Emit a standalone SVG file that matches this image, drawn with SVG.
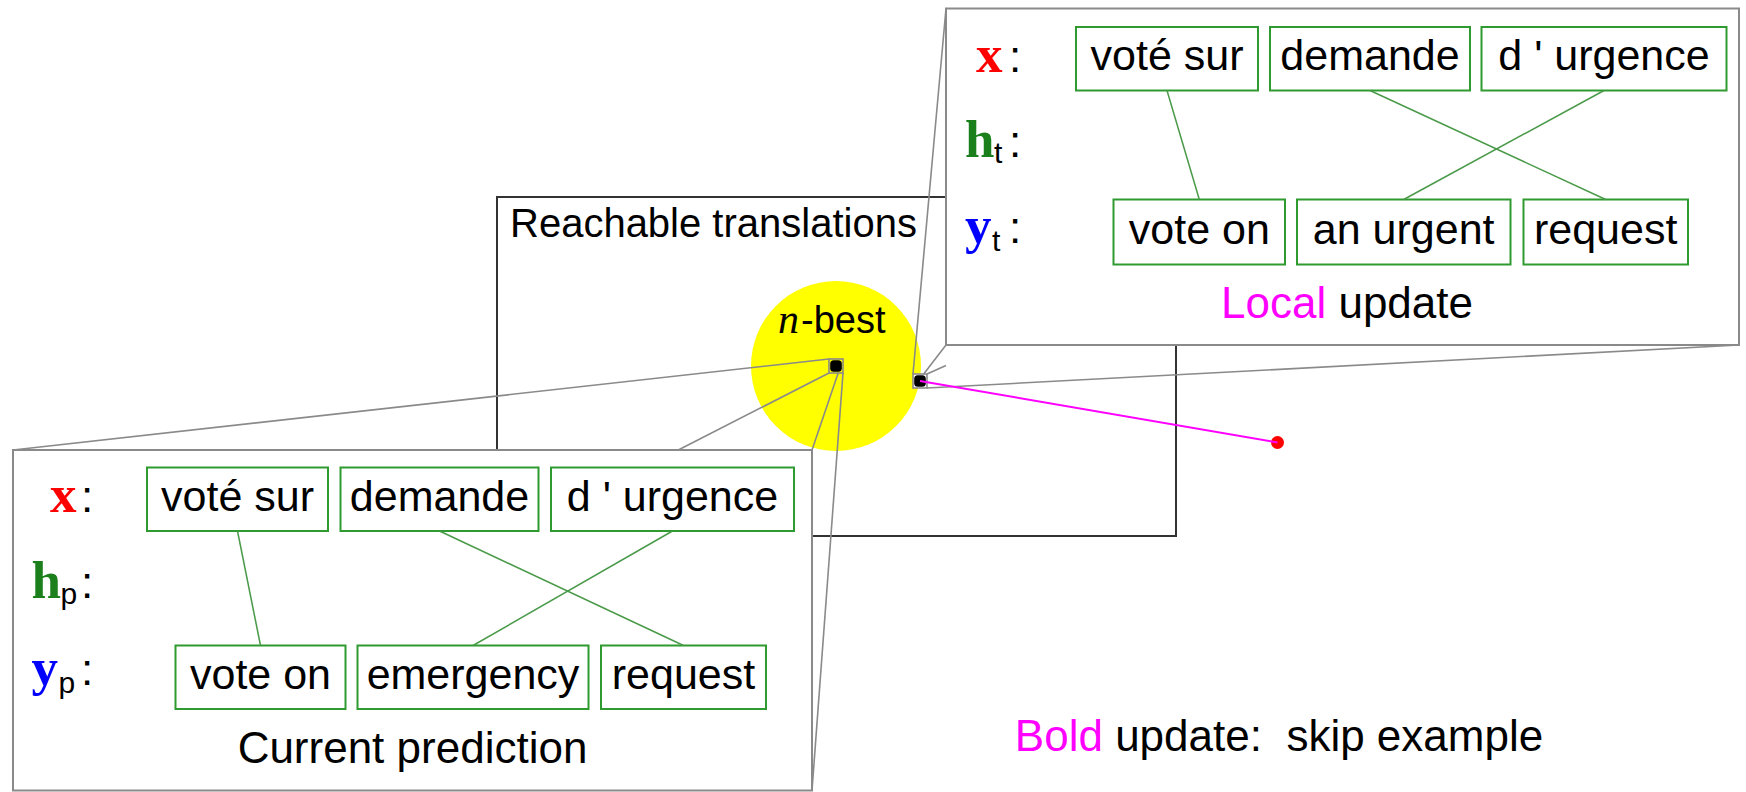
<svg xmlns="http://www.w3.org/2000/svg" width="1746" height="792" viewBox="0 0 1746 792">
  <style>
    text { font-family: "Liberation Sans", Arial, sans-serif; fill: #000; }
    .word { font-size: 43px; text-anchor: middle; }
    .cap { font-size: 44px; text-anchor: middle; }
    .bx { font-family: "Liberation Serif", "Times New Roman", serif; font-weight: bold; font-size: 53px; }
    .sub { font-size: 30px; }
    .colon { font-size: 44px; }
    .wbox { fill: #fff; stroke: #2f9a2f; stroke-width: 2; }
    .panel { fill: #fff; stroke: #8a8a8a; stroke-width: 2; }
    .align { stroke: #4a9a4a; stroke-width: 1.5; fill: none; }
    .proj { stroke: #8a8a8a; stroke-width: 1.6; fill: none; }
    .spy { stroke: #8a8a8a; stroke-width: 1.6; }
  </style>

  <!-- set of reachable translations -->
  <g id="reachable">
    <rect x="497" y="197" width="679" height="339" fill="none" stroke="#333" stroke-width="2"/>
    <text x="510" y="237" font-size="40">Reachable translations</text>
  </g>

  <!-- n-best region -->
  <g id="nbest">
    <circle cx="836" cy="366" r="85" fill="#ffff00"/>
    <text x="778" y="333" font-size="38"><tspan font-family="Liberation Serif, serif" font-style="italic" font-size="42">n</tspan><tspan x="801">-best</tspan></text>
  </g>

  <!-- magnified view: local update -->
  <g id="local-panel">
    <rect class="panel" x="946" y="8.5" width="793" height="336.5"/>
    <text x="976" y="71.5"><tspan class="bx" fill="#ff0000">x</tspan></text>
    <text class="colon" x="1009" y="71.5">:</text>
    <text x="965" y="157"><tspan class="bx" fill="#1b7f1b">h</tspan><tspan class="sub" x="994" y="163">t</tspan></text>
    <text class="colon" x="1009" y="157">:</text>
    <text x="965" y="242.5"><tspan class="bx" fill="#0000ff">y</tspan><tspan class="sub" x="992" y="251">t</tspan></text>
    <text class="colon" x="1009" y="242.5">:</text>
    <text class="cap" x="1347" y="318"><tspan fill="#ff00ff">Local</tspan> update</text>
  </g>
  <g id="t-src-1"><rect class="wbox" x="1076" y="27" width="182" height="63.5"/><text class="word" x="1167" y="70">voté sur</text></g>
  <g id="t-src-2"><rect class="wbox" x="1270" y="27" width="200" height="63.5"/><text class="word" x="1370" y="70">demande</text></g>
  <g id="t-src-3"><rect class="wbox" x="1481.5" y="27" width="245" height="63.5"/><text class="word" x="1604" y="70">d ' urgence</text></g>
  <g id="t-tgt-1"><rect class="wbox" x="1113.5" y="199.5" width="171.5" height="65"/><text class="word" x="1199.3" y="243.5">vote on</text></g>
  <g id="t-tgt-2"><rect class="wbox" x="1297" y="199.5" width="213.5" height="65"/><text class="word" x="1403.7" y="243.5">an urgent</text></g>
  <g id="t-tgt-3"><rect class="wbox" x="1523.5" y="199.5" width="164.5" height="65"/><text class="word" x="1605.7" y="243.5">request</text></g>

  <!-- magnified view: current prediction -->
  <g id="prediction-panel">
    <rect class="panel" x="13" y="450" width="799" height="340.5"/>
    <text x="50" y="511.5"><tspan class="bx" fill="#ff0000">x</tspan></text>
    <text class="colon" x="81" y="511.5">:</text>
    <text x="31.5" y="598"><tspan class="bx" fill="#1b7f1b">h</tspan><tspan class="sub" x="60.5" y="604">p</tspan></text>
    <text class="colon" x="81" y="598">:</text>
    <text x="31.5" y="685"><tspan class="bx" fill="#0000ff">y</tspan><tspan class="sub" x="58.5" y="693">p</tspan></text>
    <text class="colon" x="81" y="685">:</text>
    <text class="cap" x="412.5" y="763">Current prediction</text>
  </g>
  <g id="p-src-1"><rect class="wbox" x="147" y="467.5" width="181" height="63.5"/><text class="word" x="237.5" y="510.5">voté sur</text></g>
  <g id="p-src-2"><rect class="wbox" x="340.5" y="467.5" width="198" height="63.5"/><text class="word" x="439.5" y="510.5">demande</text></g>
  <g id="p-src-3"><rect class="wbox" x="551" y="467.5" width="243" height="63.5"/><text class="word" x="672.5" y="510.5">d ' urgence</text></g>
  <g id="p-tgt-1"><rect class="wbox" x="175.5" y="645.5" width="170" height="63.5"/><text class="word" x="260.5" y="689">vote on</text></g>
  <g id="p-tgt-2"><rect class="wbox" x="357.5" y="645.5" width="231" height="63.5"/><text class="word" x="473" y="689">emergency</text></g>
  <g id="p-tgt-3"><rect class="wbox" x="601" y="645.5" width="165" height="63.5"/><text class="word" x="683.5" y="689">request</text></g>

  <!-- spy windows on the two points -->
  <g id="spy-prediction">
    <rect class="spy" x="829" y="359" width="14" height="14" fill="#ffff00"/>
    <rect x="830.2" y="360.2" width="11.6" height="11.6" rx="3.5" fill="#000"/>
  </g>
  <g id="spy-local">
    <rect class="spy" x="913" y="374" width="14" height="14" fill="#fff"/>
    <rect x="914.2" y="375.2" width="11.6" height="11.6" rx="3.5" fill="#000"/>
  </g>

  <!-- bold-update target -->
  <g id="bold-target">
    <circle cx="1277.5" cy="442.5" r="6.5" fill="#ff0000"/>
    <text class="cap" x="1279" y="750.5" xml:space="preserve"><tspan fill="#ff00ff">Bold</tspan> update:  skip example</text>
  </g>

  <g id="connectors">
    <!-- word alignments -->
    <line class="align" x1="1167" y1="90.5" x2="1199.3" y2="199.5"/>
    <line class="align" x1="1370" y1="90.5" x2="1605.7" y2="199.5"/>
    <line class="align" x1="1604" y1="90.5" x2="1403.7" y2="199.5"/>
    <line class="align" x1="237.5" y1="531" x2="260.5" y2="645.5"/>
    <line class="align" x1="439.5" y1="531" x2="683.5" y2="645.5"/>
    <line class="align" x1="672.5" y1="531" x2="473" y2="645.5"/>
    <!-- spy projection lines, prediction panel -->
    <line class="proj" x1="829" y1="359" x2="13" y2="450"/>
    <line class="proj" x1="838.2" y1="373" x2="812" y2="450"/>
    <line class="proj" x1="829" y1="373" x2="678.3" y2="450"/>
    <line class="proj" x1="843" y1="373" x2="812" y2="790.5"/>
    <!-- spy projection lines, local panel -->
    <line class="proj" x1="913" y1="374" x2="946" y2="8.5"/>
    <line class="proj" x1="923.7" y1="374" x2="946" y2="345"/>
    <line class="proj" x1="927" y1="374" x2="946" y2="365.4"/>
    <line class="proj" x1="927" y1="388" x2="1739" y2="345"/>
    <!-- bold update move -->
    <line x1="920" y1="381" x2="1277.5" y2="442.5" stroke="#ff00ff" stroke-width="2"/>
  </g>
</svg>
